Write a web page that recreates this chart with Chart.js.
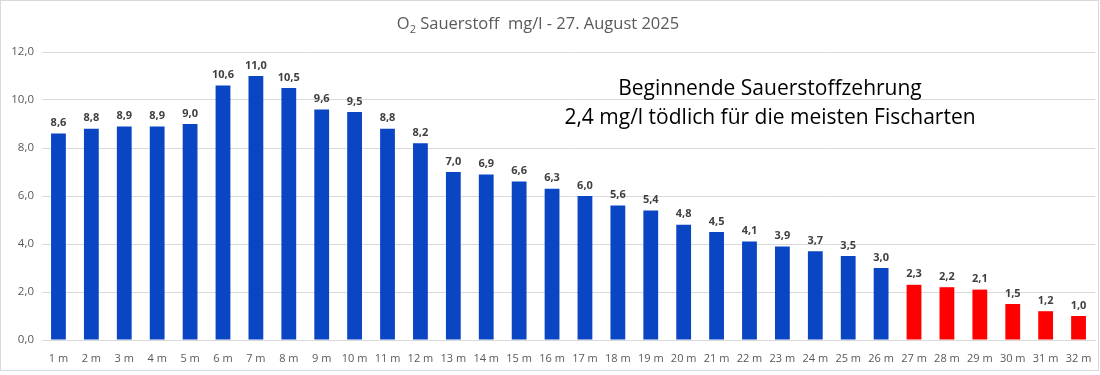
<!DOCTYPE html>
<html>
<head>
<meta charset="utf-8">
<script src="https://cdn.jsdelivr.net/npm/chart.js@4"></script>
<style>
  html, body { margin: 0; padding: 0; background: #fff; }
  #wrap { width: 1100px; height: 375px; }
</style>
</head>
<body>
<div id="wrap"><canvas id="myBarChart" width="1100" height="375"></canvas></div>
<script>
// depths and oxygen values (mg/l)
var depths = ["1 m","2 m","3 m","4 m","5 m","6 m","7 m","8 m","9 m","10 m","11 m","12 m","13 m","14 m","15 m","16 m",
              "17 m","18 m","19 m","20 m","21 m","22 m","23 m","24 m","25 m","26 m","27 m","28 m","29 m","30 m","31 m","32 m"];
var oxygen = [8.6, 8.8, 8.9, 8.9, 9.0, 10.6, 11.0, 10.5, 9.6, 9.5, 8.8, 8.2, 7.0, 6.9, 6.6, 6.3,
              6.0, 5.6, 5.4, 4.8, 4.5, 4.1, 3.9, 3.7, 3.5, 3.0, 2.3, 2.2, 2.1, 1.5, 1.2, 1.0];
var yTicks = [0, 2, 4, 6, 8, 10, 12];
var criticalFrom = 27; // depth from which bars are red
var titleText = "Sauerstoff  mg/l - 27. August 2025";
var noteLines = ["Beginnende Sauerstoffzehrung", "2,4 mg/l tödlich für die meisten Fischarten"];

var FONT = "'Open Sans', 'Noto Sans', sans-serif";

var barColors = depths.map(function(d, i) {
    return (i + 1) >= criticalFrom ? "#FF0000" : "#0A46C4";
});

function fmt(v) { return v.toFixed(1).replace(".", ","); }

// title, note, value labels and frame
var extras = {
    id: 'extras',
    afterDatasetsDraw: function(chart) {
        var c = chart.ctx;
        c.save();
        // value labels
        var meta = chart.getDatasetMeta(0);
        c.font = "bold 11px " + FONT;
        c.fillStyle = "#404040";
        c.textAlign = "center";
        c.textBaseline = "bottom";
        meta.data.forEach(function(bar, i) {
            c.fillText(fmt(oxygen[i]), bar.x, bar.y - 5);
        });
        // title with subscript
        c.fillStyle = "#595959";
        c.textBaseline = "alphabetic";
        c.textAlign = "left";
        c.font = "16.5px " + FONT;
        var oW = c.measureText("O").width;
        c.font = "11px " + FONT;
        var sW = c.measureText("2").width;
        c.font = "16.5px " + FONT;
        var tW = c.measureText(" " + titleText).width;
        var x0 = 538 - (oW + sW + tW) / 2;
        c.fillText("O", x0, 29);
        c.font = "11px " + FONT;
        c.fillText("2", x0 + oW, 33);
        c.font = "16.5px " + FONT;
        c.fillText(" " + titleText, x0 + oW + sW, 29);
        // note
        c.fillStyle = "#000000";
        c.textAlign = "center";
        c.font = "21px " + FONT;
        c.fillText(noteLines[0], 770, 95);
        c.fillText(noteLines[1], 770, 124);
        // frame
        c.strokeStyle = "#D9D9D9";
        c.lineWidth = 1;
        c.strokeRect(0.5, 0.5, 1098, 370);
        c.restore();
    }
};

var ctx = document.getElementById('myBarChart').getContext('2d');
var chart = new Chart(ctx, {
    type: 'bar',
    data: {
        labels: depths,
        datasets: [{
            label: "Sauerstoff",
            backgroundColor: barColors,
            data: oxygen,
            barPercentage: 0.9,
            categoryPercentage: 0.5
        }]
    },
    plugins: [extras],
    options: {
        responsive: false,
        animation: false,
        layout: { padding: { top: 52, right: 5, bottom: 10, left: 0 } },
        plugins: { legend: { display: false }, tooltip: { enabled: false } },
        scales: {
            x: {
                grid: { display: false },
                border: { color: "#D9D9D9" },
                ticks: { color: "#595959", font: { family: FONT, size: 11 }, maxRotation: 0, autoSkip: false, padding: 4 },
                afterFit: function(s) { s.height = 25; }
            },
            y: {
                min: 0, max: 12,
                border: { display: false },
                grid: { color: "#D9D9D9", drawTicks: false },
                afterBuildTicks: function(s) { s.ticks = yTicks.map(function(v) { return { value: v }; }); },
                ticks: {
                    color: "#595959", font: { family: FONT, size: 11.5 }, padding: 8,
                    callback: function(v) { return fmt(v); }
                },
                afterFit: function(s) { s.width = 42; }
            }
        }
    }
});
</script>
</body>
</html>
